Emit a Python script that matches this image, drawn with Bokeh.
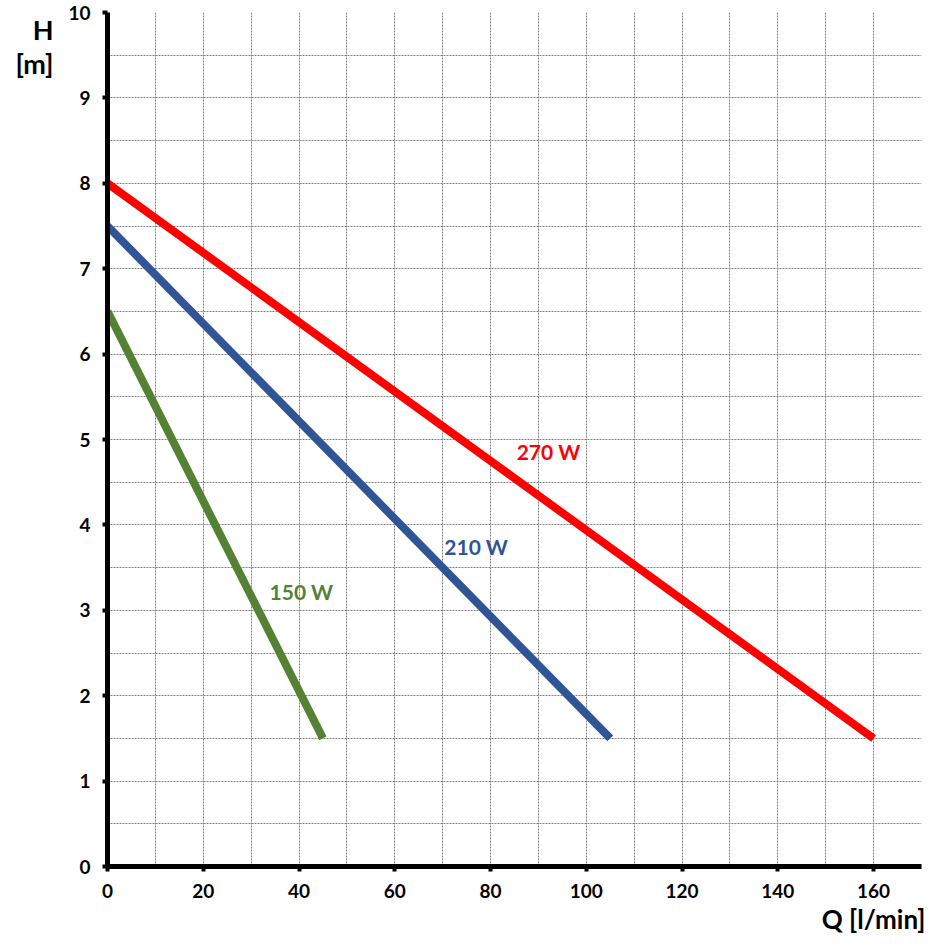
from bokeh.plotting import figure
from bokeh.models import FixedTicker, Label, Range1d, LinearAxis
from bokeh.embed import file_html
from bokeh.resources import INLINE

# Data
q_270 = [0, 160]
h_270 = [8.0, 1.5]
q_210 = [0, 105]
h_210 = [7.5, 1.5]
q_150 = [0, 45]
h_150 = [6.5, 1.5]
x_ticks = [0, 20, 40, 60, 80, 100, 120, 140, 160]
y_ticks = [0, 1, 2, 3, 4, 5, 6, 7, 8, 9, 10]
x_grid = [10, 20, 30, 40, 50, 60, 70, 80, 90, 100, 110, 120, 130, 140, 150, 160, 170]
y_grid = [0.5 * i for i in range(1, 21)]
x_title = "Q [l/min]"
y_title = ["H", "[m]"]

FONT = "Lato"

p = figure(width=946, height=946, output_backend="svg", toolbar_location=None,
           x_range=Range1d(0, 170), y_range=Range1d(0, 10),
           min_border_left=107, min_border_right=25, min_border_top=12, min_border_bottom=80)
p.outline_line_color = None
p.background_fill_color = "white"
p.border_fill_color = "white"

p.xgrid.ticker = FixedTicker(ticks=x_grid)
p.ygrid.ticker = FixedTicker(ticks=y_grid)
for g in (p.xgrid, p.ygrid):
    g.grid_line_color = "#808080"
    g.grid_line_dash = "2 1"
    g.grid_line_width = 1

for ax, ticks in ((p.xaxis, x_ticks), (p.yaxis, y_ticks)):
    ax.ticker = FixedTicker(ticks=ticks)
    ax.axis_line_width = 5
    ax.axis_line_color = "black"
    ax.major_tick_line_width = 4
    ax.major_tick_out = 5
    ax.major_tick_in = 0
    ax.minor_tick_line_color = None
    ax.major_label_text_font = FONT
    ax.major_label_text_font_style = "bold"
    ax.major_label_text_font_size = "19px"
    ax.major_label_text_color = "black"
p.xaxis.major_label_standoff = 12
p.yaxis.major_label_standoff = 12

# axis titles drawn as tick labels of extra, invisible axes
def title_axis(ticks, overrides, standoff, size):
    a = LinearAxis(ticker=FixedTicker(ticks=ticks), major_label_overrides=overrides,
                   axis_line_color=None, major_tick_line_color=None,
                   minor_tick_line_color=None, major_tick_out=0, major_tick_in=0,
                   major_label_standoff=standoff,
                   major_label_text_font=FONT, major_label_text_font_style="bold",
                   major_label_text_font_size=size, major_label_text_color="black")
    return a

p.add_layout(title_axis([160], {160: x_title}, 2, "26px"), "below")
p.add_layout(title_axis([9.8, 9.4], {9.8: y_title[0], 9.4: y_title[1]}, 12, "27px"), "left")

p.line(q_270, h_270, line_color="#FF0000", line_width=8)
p.line(q_210, h_210, line_color="#2F5597", line_width=8)
p.line(q_150, h_150, line_color="#548235", line_width=8)

def lab(x, y, t, color):
    p.add_layout(Label(x=x, y=y, text=t, text_color=color, text_font=FONT,
                       text_font_style="bold", text_font_size="21px",
                       text_align="center", text_baseline="middle"))

lab(92.1, 4.86, "270 W", "#FF0000")
lab(77.0, 3.75, "210 W", "#2F5597")
lab(40.5, 3.22, "150 W", "#548235")

open("out.html", "w").write(file_html(p, INLINE))
